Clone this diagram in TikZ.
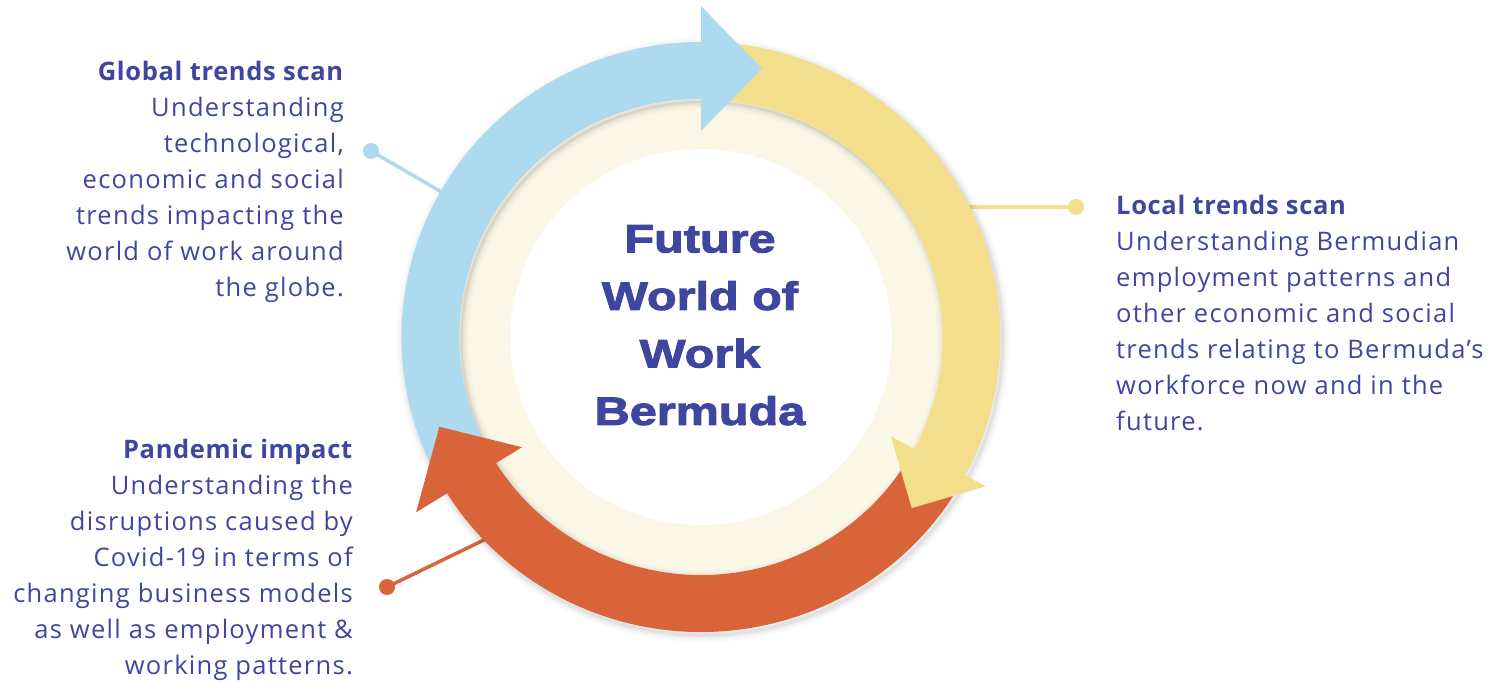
\documentclass[tikz,border=0pt]{standalone}
\usepackage{fontspec}
\setmainfont{Open Sans}[LetterSpace=5, BoldFeatures={LetterSpace=2.6}]
\newfontfamily\titlefont{Liberation Sans}[FakeStretch=1.23, BoldFeatures={FakeBold=2.6}]
\usetikzlibrary{calc}

\definecolor{inkblue}{HTML}{3F469F}
\definecolor{skyblue}{HTML}{ADDAEF}
\definecolor{sandyellow}{HTML}{F3DF8B}
\definecolor{rustred}{HTML}{D9643A}
\definecolor{creamfill}{HTML}{FAF7E6}

\tikzset{
  bodytext/.style={inner sep=0pt, text=inkblue,
    font={\fontsize{25.5}{36}\selectfont}},
  titletext/.style={inner sep=0pt, text=inkblue, align=center,
    font={\titlefont\bfseries\fontsize{39.5}{57.5}\selectfont}},
  pin dot/.style={circle, inner sep=0pt, minimum size=16pt},
  pin line/.style={line width=3.5pt},
}

\begin{document}
\begin{tikzpicture}[x=1pt, y=1pt]
\useasboundingbox (0,0) rectangle (1499,681);

% pins joining each caption to the cycle
\node[pin dot, fill=skyblue] (gdot) at (371,530) {};
\coordinate (gend) at (445,487);
\draw[pin line, skyblue] (gdot.center) -- (gend);

\node[pin dot, fill=sandyellow] (ldot) at (1076,474) {};
\coordinate (lend) at (960,474);
\draw[pin line, sandyellow] (ldot.center) -- (lend);

\node[pin dot, fill=rustred] (pdot) at (387,94) {};
\coordinate (pend) at (488,143);
\draw[pin line, rustred] (pdot.center) -- (pend);

% the cycle
\begin{scope}[shift={(701,344)}, xscale=1.015]
  % soft shadow round the outer edge
  \foreach \w/\o in {14/0.02, 10/0.025, 6/0.035, 3/0.045}
    \draw[line width=\w pt, black, opacity=\o] (2,-3) circle (295);
  \fill[creamfill] (0,0) circle (238);
  \fill[white] (0,0) circle (188);
  % shadow cast by the band onto the cream ring
  \begin{scope}
    \clip (0,0) circle (238);
    \foreach \w/\o in {14/0.02, 9/0.03, 5/0.04, 2/0.05}
      \draw[line width=\w pt, black, opacity=\o] (2,-3) circle (238);
  \end{scope}

  % arrow bodies, each starting under the head of the one before
  \fill[sandyellow] (87:295) arc[start angle=87, end angle=-29, radius=295]
    -- (-29:238) arc[start angle=-29, end angle=87, radius=238] -- cycle;
  \fill[rustred] (-31:295) arc[start angle=-31, end angle=-149, radius=295]
    -- (-149:238) arc[start angle=-149, end angle=-31, radius=238] -- cycle;
  \fill[skyblue] (208:295) arc[start angle=208, end angle=89, radius=295]
    -- (89:238) arc[start angle=89, end angle=208, radius=238] -- cycle;

  % arrow heads
  \fill[skyblue] (90:206) -- (90:331) -- (77.4:275) -- cycle;
  \fill[sandyellow] (-28:212) -- (-28:318) -- (-39.5:269) -- cycle;
  \fill[rustred] (212:208) -- (212:331) -- (199.2:273) -- cycle;
\end{scope}

\node[titletext, anchor=north] (title) at (700,456)
  {Future\\World of\\Work\\Bermuda};

\node[bodytext, align=right, anchor=north east] (global) at (344,620)
  {\textbf{Global trends scan}\\Understanding\\technological,\\economic and social\\trends impacting the\\world of work around\\the globe.};

\node[bodytext, align=left, anchor=north west] (local) at (1116,486)
  {\textbf{Local trends scan}\\Understanding Bermudian\\employment patterns and\\other economic and social\\trends relating to Bermuda’s\\workforce now and in the\\future.};

\node[bodytext, align=right, anchor=north east] (pandemic) at (353,242)
  {\textbf{Pandemic impact}\\Understanding the\\disruptions caused by\\Covid-19 in terms of\\changing business models\\as well as employment \&\\working patterns.};
\end{tikzpicture}
\end{document}
